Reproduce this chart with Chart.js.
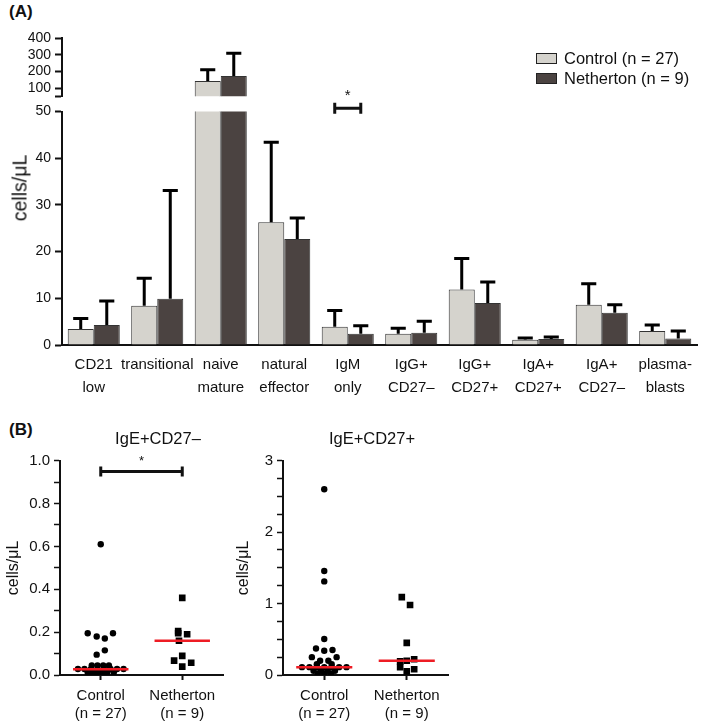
<!DOCTYPE html>
<html>
<head>
<meta charset="utf-8">
<script src="https://cdn.jsdelivr.net/npm/chart.js@4.4.1/dist/chart.umd.min.js"></script>
<style>
body { margin: 0; background: #fff; }
#wrap { position: relative; width: 709px; height: 724px; font-family: "Liberation Sans", Arial, sans-serif; color: #111; }
#wrap canvas { position: absolute; }
.panel { position: absolute; font-weight: bold; font-size: 17px; }
.subtitle { position: absolute; top: 438px; transform: translate(-50%, -50%); font-size: 16.5px; white-space: nowrap; }
#legend { position: absolute; left: 536px; top: 48px; font-size: 16.5px; }
#legend div { display: flex; align-items: center; height: 20px; white-space: nowrap; }
#legend span { display: inline-block; width: 19px; height: 9px; border: 1.5px solid #222; margin-right: 7px; }
#ytitleA { position: absolute; z-index: 2; left: 20px; top: 188px; transform: translate(-50%, -50%) rotate(-90deg); font-size: 19.5px; color: #111; white-space: nowrap; }
</style>
</head>
<body>
<div id="wrap">
  <div class="panel" style="left:9px; top:2px">(A)</div>
  <div class="panel" style="left:9px; top:420px">(B)</div>
  <canvas id="barTop" width="709" height="90" style="left:0; top:20px"></canvas>
  <canvas id="barBottom" width="709" height="315" style="left:0; top:85px"></canvas>
  <div id="ytitleA">cells/μL</div>
  <div id="legend"></div>
  <canvas id="scatterNeg" width="324" height="304" style="left:0; top:420px"></canvas>
  <canvas id="scatterPos" width="284" height="304" style="left:230px; top:420px"></canvas>
  <div class="subtitle" style="left:158px">IgE+CD27–</div>
  <div class="subtitle" style="left:372px">IgE+CD27+</div>
</div>
<script>
// panel A: B-cell subsets, mean + SD
const barCategories = [['CD21', 'low'], 'transitional', ['naive', 'mature'], ['natural', 'effector'], ['IgM', 'only'],
  ['IgG+', 'CD27–'], ['IgG+', 'CD27+'], ['IgA+', 'CD27+'], ['IgA+', 'CD27–'], ['plasma-', 'blasts']];
const seriesNames = ['Control (n = 27)', 'Netherton (n = 9)'];
const controlMeans = [3.4, 8.4, 142, 26.3, 3.9, 2.4, 11.9, 1.1, 8.6, 3.0];
const controlSD = [2.3, 5.9, 68, 17.1, 3.5, 1.2, 6.6, 0.4, 4.5, 1.3];
const nethertonMeans = [4.3, 9.9, 172, 22.7, 2.4, 2.6, 9.0, 1.3, 6.9, 1.4];
const nethertonSD = [5.1, 23.2, 138, 4.5, 1.7, 2.5, 4.5, 0.4, 1.7, 1.6];
const lowerTicks = [0, 10, 20, 30, 40, 50];
const upperTicks = [50, 100, 200, 300, 400];
const barColors = ['#d5d3cd', '#4b4341'];

// panel B: IgE+ subsets, individual values
const groupLabels = [['Control', '(n = 27)'], ['Netherton', '(n = 9)']];
const negCtrlVals = [0.61, 0.195, 0.18, 0.17, 0.195, 0.115, 0.095, 0.045, 0.045, 0.045, 0.045,
  0.028, 0.028, 0.028, 0.028, 0.028, 0.028, 0.028, 0.028, 0.012, 0.012, 0.012, 0.012, 0.012, 0.002, 0.002, 0.002];
const negCtrlJitter = [0, -0.16, -0.05, 0.05, 0.15, 0.05, -0.05, -0.11, -0.04, 0.03, 0.1,
  -0.28, -0.2, -0.12, -0.04, 0.04, 0.12, 0.2, 0.28, -0.16, -0.08, 0, 0.08, 0.16, -0.1, -0.03, 0.04];
const negNethVals = [0.36, 0.205, 0.195, 0.19, 0.16, 0.089, 0.067, 0.057, 0.039];
const negNethJitter = [0, -0.05, -0.05, 0.06, -0.04, 0, -0.1, 0.11, 0];
const negMedians = [0.027, 0.16];
const negTickValues = [0, 0.1, 0.2, 0.3, 0.4, 0.5, 0.6, 0.7, 0.8, 0.9, 1.0];
const negTickLabels = ['0.0', '', '0.2', '', '0.4', '', '0.6', '', '0.8', '', '1.0'];

const posCtrlVals = [2.6, 1.456, 1.31, 0.504, 0.37, 0.34, 0.35, 0.25, 0.25, 0.2, 0.2, 0.15, 0.15,
  0.11, 0.11, 0.11, 0.11, 0.11, 0.11, 0.11, 0.06, 0.06, 0.06, 0.06, 0.02, 0.02, 0.02];
const posCtrlJitter = [0, 0, 0, 0, -0.1, 0, 0.1, -0.15, 0.15, -0.05, 0.05, -0.09, 0.09,
  -0.27, -0.18, -0.09, 0, 0.09, 0.18, 0.27, -0.13, -0.04, 0.04, 0.13, -0.08, 0, 0.08];
const posNethVals = [1.09, 0.98, 0.45, 0.22, 0.2, 0.19, 0.11, 0.08, 0.05];
const posNethJitter = [-0.06, 0.04, 0, 0.09, 0, -0.08, -0.08, 0.09, 0];
const posMedians = [0.11, 0.2];
const posTickValues = [0, 0.25, 0.5, 0.75, 1, 1.25, 1.5, 1.75, 2, 2.25, 2.5, 2.75, 3];
const posTickLabels = ['0', '', '', '', '1', '', '', '', '2', '', '', '', '3'];

Chart.defaults.font.family = '"Liberation Sans", Arial, sans-serif';
Chart.defaults.color = '#111';
Chart.defaults.animation = false;

// upward error bars (mean + SD), only where the bar top lies in this axis segment
const errorBars = {
  id: 'errorBars',
  afterDatasetsDraw(chart) {
    const ctx = chart.ctx;
    const y = chart.scales.y;
    chart.data.datasets.forEach((ds, di) => {
      chart.getDatasetMeta(di).data.forEach((bar, i) => {
        const v = ds.data[i];
        if (v == null || v > y.max || v < y.min) return;
        const y0 = y.getPixelForValue(v);
        const y1 = y.getPixelForValue(v + ds.sd[i]);
        const half = bar.width * 0.29;
        ctx.save();
        ctx.strokeStyle = '#000';
        ctx.lineWidth = 3;
        ctx.beginPath();
        ctx.moveTo(bar.x, y0);
        ctx.lineTo(bar.x, y1);
        ctx.moveTo(bar.x - half, y1);
        ctx.lineTo(bar.x + half, y1);
        ctx.stroke();
        ctx.restore();
      });
    });
  }
};

// significance bracket with a star
const sigBracket = {
  id: 'sigBracket',
  afterDraw(chart, args, o) {
    if (!o || o.y == null) return;
    let x0, x1;
    if (o.barIndex != null) {
      x0 = chart.getDatasetMeta(0).data[o.barIndex].x;
      x1 = chart.getDatasetMeta(1).data[o.barIndex].x;
    } else {
      x0 = chart.scales.x.getPixelForValue(o.x0);
      x1 = chart.scales.x.getPixelForValue(o.x1);
    }
    const y = chart.scales.y.getPixelForValue(o.y);
    const ctx = chart.ctx;
    ctx.save();
    ctx.strokeStyle = '#111';
    ctx.lineWidth = 3;
    ctx.beginPath();
    ctx.moveTo(x0, y); ctx.lineTo(x1, y);
    ctx.moveTo(x0, y - o.cap); ctx.lineTo(x0, y + o.cap);
    ctx.moveTo(x1, y - o.cap); ctx.lineTo(x1, y + o.cap);
    ctx.stroke();
    ctx.fillStyle = '#111';
    ctx.font = o.size + 'px "Liberation Sans", Arial, sans-serif';
    ctx.textAlign = 'center';
    ctx.textBaseline = 'middle';
    ctx.fillText('*', (x0 + x1) / 2, y - o.lift);
    ctx.restore();
  }
};

function barDatasets(cut) {
  const means = [controlMeans, nethertonMeans];
  const sds = [controlSD, nethertonSD];
  return seriesNames.map((name, k) => ({
    label: name,
    data: means[k].map(v => (cut == null || v > cut ? v : null)),
    sd: sds[k],
    backgroundColor: barColors[k],
    borderColor: '#333',
    borderWidth: 1,
    categoryPercentage: 0.82,
    barPercentage: 1.0
  }));
}

const yAxisCommon = {
  grid: { drawOnChartArea: false, tickLength: 7, tickColor: '#111', tickWidth: 2 },
  border: { color: '#111', width: 2 },
  afterFit: s => { s.width = 62; }
};

// upper segment (break) 50-400
new Chart(document.getElementById('barTop'), {
  type: 'bar',
  data: { labels: barCategories, datasets: barDatasets(lowerTicks[lowerTicks.length - 1]) },
  options: {
    responsive: false,
    layout: { padding: { top: 18.3, bottom: 13.7, left: 0, right: 12 } },
    plugins: { legend: { display: false }, tooltip: { enabled: false } },
    scales: {
      x: { display: false },
      y: Object.assign({}, yAxisCommon, {
        min: 50, max: 400,
        afterBuildTicks: s => { s.ticks = upperTicks.map(v => ({ value: v })); },
        ticks: { font: { size: 14 }, padding: 4, autoSkip: false, callback: v => (v === 50 ? '' : v) }
      })
    }
  },
  plugins: [errorBars]
});

// lower segment 0-50
new Chart(document.getElementById('barBottom'), {
  type: 'bar',
  data: { labels: barCategories, datasets: barDatasets(null) },
  options: {
    responsive: false,
    layout: { padding: { top: 26.5, bottom: 0, left: 0, right: 12 } },
    plugins: {
      legend: { display: false }, tooltip: { enabled: false },
      sigBracket: { barIndex: 4, y: 50.7, cap: 5.5, lift: 12, size: 15 }
    },
    scales: {
      x: {
        grid: { display: false, drawTicks: false },
        border: { display: true, color: '#111', width: 2 },
        ticks: { font: { size: 15, lineHeight: 1.5 }, padding: 9, maxRotation: 0, autoSkip: false },
        afterFit: s => { s.height = 55; }
      },
      y: Object.assign({}, yAxisCommon, {
        min: 0, max: 50,
        afterBuildTicks: s => { s.ticks = lowerTicks.map(v => ({ value: v })); },
        ticks: { font: { size: 14 }, padding: 4, autoSkip: false }
      })
    }
  },
  plugins: [errorBars, sigBracket]
});

// html legend from series names
document.getElementById('legend').innerHTML = seriesNames.map((n, k) =>
  '<div><span style="background:' + barColors[k] + '"></span>' + n + '</div>').join('');

function points(vals, jitter, group) {
  return vals.map((v, i) => ({ x: group + jitter[i], y: v }));
}

function scatterChart(id, ctrl, ctrlJit, neth, nethJit, medians, tickValues, tickLabels, max, yWidth, rightPad, bracket) {
  const medianSets = medians.map((m, g) => ({
    data: [{ x: g - 0.34, y: m }, { x: g + 0.34, y: m }],
    showLine: true, pointRadius: 0, borderColor: '#ee1c24', borderWidth: 2.5, order: 0
  }));
  return new Chart(document.getElementById(id), {
    type: 'scatter',
    data: {
      datasets: [
        { data: points(ctrl, ctrlJit, 0), pointStyle: 'circle', pointRadius: 3.2, backgroundColor: '#000', borderWidth: 0, order: 1 },
        { data: points(neth, nethJit, 1), pointStyle: 'rect', pointRadius: 4.7, backgroundColor: '#000', borderWidth: 0, order: 1 }
      ].concat(medianSets)
    },
    options: {
      responsive: false,
      layout: { padding: { top: 40.7, bottom: 0, left: 0, right: rightPad } },
      plugins: {
        legend: { display: false }, tooltip: { enabled: false },
        sigBracket: bracket
      },
      scales: {
        x: {
          type: 'linear', min: -0.5, max: 1.5,
          afterBuildTicks: s => { s.ticks = groupLabels.map((l, i) => ({ value: i })); },
          grid: { drawOnChartArea: false, tickLength: 5, tickColor: '#111', tickWidth: 2 },
          border: { color: '#111', width: 2 },
          ticks: { font: { size: 15 }, padding: 7, maxRotation: 0, autoSkip: false, callback: (v, i) => groupLabels[i] },
          afterFit: s => { s.height = 49; }
        },
        y: {
          min: 0, max: max,
          afterBuildTicks: s => { s.ticks = tickValues.map(v => ({ value: v })); },
          grid: { drawOnChartArea: false, tickLength: 6, tickColor: '#111', tickWidth: 1.5 },
          border: { color: '#111', width: 2 },
          ticks: { font: { size: 15 }, padding: 4, autoSkip: false, callback: (v, i) => tickLabels[i] },
          title: { display: true, text: 'cells/μL', font: { size: 16 }, padding: { top: 4, bottom: 0 } },
          afterFit: s => { s.width = yWidth; }
        }
      }
    },
    plugins: [sigBracket]
  });
}

scatterChart('scatterNeg', negCtrlVals, negCtrlJitter, negNethVals, negNethJitter, negMedians,
  negTickValues, negTickLabels, 1.0, 60, 101, { x0: 0, x1: 1, y: 0.95, cap: 5, lift: 10, size: 13 });
scatterChart('scatterPos', posCtrlVals, posCtrlJitter, posNethVals, posNethJitter, posMedians,
  posTickValues, posTickLabels, 3, 53, 66, {});
</script>
</body>
</html>
